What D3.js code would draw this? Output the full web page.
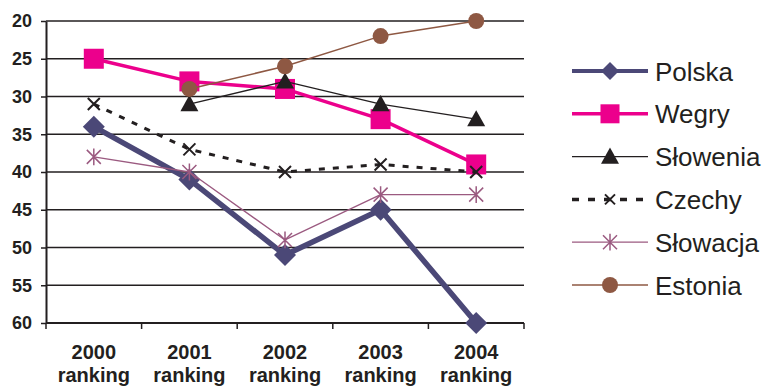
<!DOCTYPE html>
<html>
<head>
<meta charset="utf-8">
<script src="https://cdn.jsdelivr.net/npm/d3@7"></script>
<style>
  html, body { margin: 0; padding: 0; background: #fff; }
  svg { display: block; }
</style>
</head>
<body>
<svg id="chart" width="773" height="388"></svg>
<script>
// Ranking positions (lower rank number drawn higher)
const categories = ["2000", "2001", "2002", "2003", "2004"];
const categorySuffix = "ranking";
const yTicks = [20, 25, 30, 35, 40, 45, 50, 55, 60];

const polska   = [34, 41, 51, 45, 60];
const wegry    = [25, 28, 29, 33, 39];
const slowenia = [null, 31, 28, 31, 33];
const czechy   = [31, 37, 40, 39, 40];
const slowacja = [38, 40, 49, 43, 43];
const estonia  = [null, 29, 26, 22, 20];

const seriesNames = ["Polska", "Wegry", "Słowenia", "Czechy", "Słowacja", "Estonia"];

const series = [
  { name: seriesNames[0], values: polska,   color: "#4b4877", width: 5.5, marker: "diamond",  size: 11, dash: null },
  { name: seriesNames[1], values: wegry,    color: "#ec008c", width: 3.5, marker: "square",   size: 10, dash: null },
  { name: seriesNames[2], values: slowenia, color: "#231f20", width: 1.3, marker: "triangle", size: 9,  dash: null },
  { name: seriesNames[3], values: czechy,   color: "#231f20", width: 3,   marker: "cross",    size: 6,  dash: "6,8" },
  { name: seriesNames[4], values: slowacja, color: "#9b5a80", width: 1.3, marker: "star",     size: 7,  dash: null },
  { name: seriesNames[5], values: estonia,  color: "#8e5843", width: 1.5, marker: "circle",   size: 8,  dash: null }
];

const svg = d3.select("#chart");
const plot = { left: 46, right: 524, top: 21, bottom: 323 };

const x = d3.scaleBand().domain(categories).range([plot.left, plot.right]);
const y = d3.scaleLinear().domain([20, 60]).range([plot.top, plot.bottom]);
const cx = c => x(c) + x.bandwidth() / 2;

// Horizontal gridlines
svg.append("g")
  .selectAll("line")
  .data(yTicks.slice(0, -1))
  .join("line")
  .attr("x1", plot.left).attr("x2", plot.right)
  .attr("y1", d => y(d)).attr("y2", d => y(d))
  .attr("stroke", "#231f20").attr("stroke-width", 1.5);

// Y axis
const yAxis = svg.append("g")
  .attr("transform", `translate(${plot.left},0)`)
  .call(d3.axisLeft(y).tickValues(yTicks).tickSize(5).tickPadding(9).tickSizeOuter(0));
yAxis.select(".domain").attr("stroke", "#231f20").attr("stroke-width", 2);
yAxis.selectAll(".tick line").attr("stroke", "#231f20").attr("stroke-width", 1.5);
yAxis.selectAll(".tick text")
  .attr("fill", "#231f20")
  .style("font-family", "'Liberation Sans', Arial, sans-serif")
  .style("font-weight", "bold")
  .style("font-size", "18px");

// X axis with ticks at band boundaries
const xAxisG = svg.append("g").attr("transform", `translate(0,${plot.bottom})`);
xAxisG.append("line")
  .attr("x1", plot.left).attr("x2", plot.right)
  .attr("stroke", "#231f20").attr("stroke-width", 2);
const bounds = categories.map(c => x(c)).concat([x(categories[categories.length - 1]) + x.bandwidth()]);
xAxisG.selectAll("line.tk")
  .data(bounds)
  .join("line")
  .attr("class", "tk")
  .attr("x1", d => d).attr("x2", d => d)
  .attr("y1", 0).attr("y2", 6)
  .attr("stroke", "#231f20").attr("stroke-width", 1.5);

const xLabels = svg.append("g")
  .selectAll("text")
  .data(categories)
  .join("text")
  .attr("x", d => cx(d))
  .attr("text-anchor", "middle")
  .attr("fill", "#231f20")
  .style("font-family", "'Liberation Sans', Arial, sans-serif")
  .style("font-weight", "bold")
  .style("font-size", "20px");
xLabels.append("tspan").attr("x", d => cx(d)).attr("y", 359).text(d => d);
xLabels.append("tspan").attr("x", d => cx(d)).attr("y", 382).text(categorySuffix);

// Marker drawing
function drawMarker(g, type, px, py, s, color) {
  if (type === "diamond") {
    g.append("path")
      .attr("d", `M${px},${py - s}L${px + s},${py}L${px},${py + s}L${px - s},${py}Z`)
      .attr("fill", color);
  } else if (type === "square") {
    g.append("rect")
      .attr("x", px - s).attr("y", py - s).attr("width", 2 * s).attr("height", 2 * s)
      .attr("fill", color);
  } else if (type === "triangle") {
    g.append("path")
      .attr("d", `M${px},${py - s}L${px + s},${py + s * 0.8}L${px - s},${py + s * 0.8}Z`)
      .attr("fill", color);
  } else if (type === "cross") {
    g.append("path")
      .attr("d", `M${px - s},${py - s}L${px + s},${py + s}M${px - s},${py + s}L${px + s},${py - s}`)
      .attr("stroke", color).attr("stroke-width", 2).attr("fill", "none");
  } else if (type === "star") {
    g.append("path")
      .attr("d", `M${px - s},${py - s}L${px + s},${py + s}M${px - s},${py + s}L${px + s},${py - s}M${px},${py - s * 1.2}L${px},${py + s * 1.2}`)
      .attr("stroke", color).attr("stroke-width", 1.5).attr("fill", "none");
  } else if (type === "circle") {
    g.append("circle").attr("cx", px).attr("cy", py).attr("r", s).attr("fill", color);
  }
}

const line = d3.line()
  .defined(d => d.v != null)
  .x(d => cx(d.c))
  .y(d => y(d.v));

series.forEach(s => {
  const g = svg.append("g");
  const pts = categories.map((c, i) => ({ c, v: s.values[i] }));
  g.append("path")
    .datum(pts)
    .attr("d", line)
    .attr("fill", "none")
    .attr("stroke", s.color)
    .attr("stroke-width", s.width)
    .attr("stroke-linejoin", "round")
    .attr("stroke-dasharray", s.dash);
  pts.filter(p => p.v != null).forEach(p => drawMarker(g, s.marker, cx(p.c), y(p.v), s.size, s.color));
});

// Legend
const legend = svg.append("g");
const legendY0 = 71, legendStep = 42.8;
series.forEach((s, i) => {
  const ly = legendY0 + i * legendStep;
  const g = legend.append("g");
  if (s.dash) {
    g.append("line")
      .attr("x1", 572).attr("x2", 648).attr("y1", ly).attr("y2", ly)
      .attr("stroke", s.color).attr("stroke-width", 3.5)
      .attr("stroke-dasharray", "7,9");
  } else {
    g.append("line")
      .attr("x1", 572).attr("x2", 648).attr("y1", ly).attr("y2", ly)
      .attr("stroke", s.color).attr("stroke-width", Math.min(s.width, 4));
  }
  const ms = s.marker === "square" ? 9.5 : s.marker === "diamond" ? 9 : s.marker === "cross" ? 5 : s.size;
  drawMarker(g, s.marker, 610, ly, ms, s.color);
  g.append("text")
    .attr("x", 655).attr("y", ly + 9.5)
    .attr("fill", "#231f20")
    .style("font-family", "'Liberation Sans', Arial, sans-serif")
    .style("font-size", "26px")
    .text(s.name);
});
</script>
</body>
</html>
